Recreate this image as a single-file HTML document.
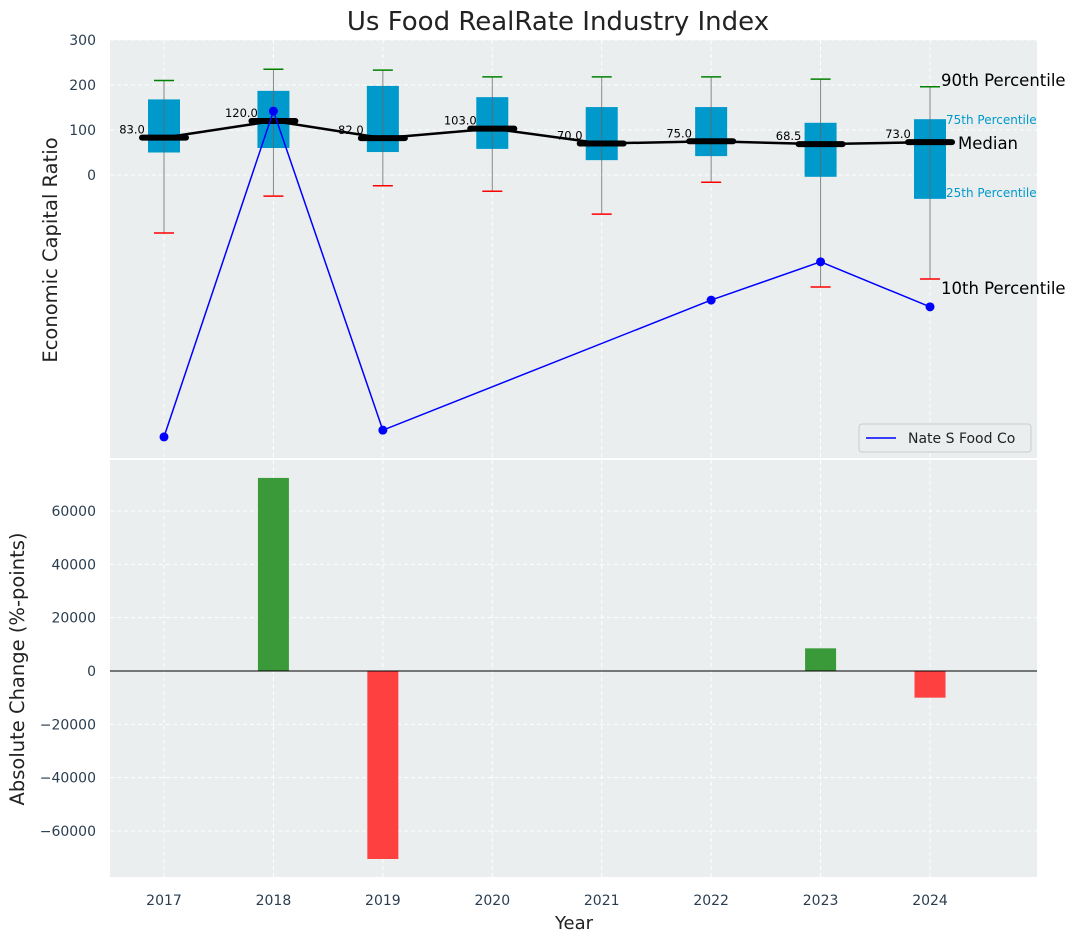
<!DOCTYPE html>
<html><head><meta charset="utf-8"><style>
body{margin:0;background:#fff;font-family:"Liberation Sans","DejaVu Sans",sans-serif}
svg text{font-family:"DejaVu Sans","Liberation Sans",sans-serif}
</style></head><body>
<svg id="c" width="1076" height="942" xmlns="http://www.w3.org/2000/svg"></svg>
<script>
const years=[2017,2018,2019,2020,2021,2022,2023,2024];
const p10=[-129,-47,-24,-36,-87,-16,-249,-231];
const p25=[50,60,51,58,33,42,-4,-53];
const med=[83,120,82,103,70,75,68.5,73];
const p75=[168,187,198,173,151,151,116,124];
const p90=[210,235,233,218,218,218,213,196];
const companyYears=[2017,2018,2019,2022,2023,2024];
const company=[-582,142,-567,-278,-193,-293];
const changeYears=[2018,2019,2023,2024];
const changes=[72400,-70500,8500,-10000];
const topTicks=[300,200,100,0];
const botTicks=[60000,40000,20000,0,-20000,-40000,-60000];

const NS="http://www.w3.org/2000/svg",svg=document.getElementById('c');
function el(t,a,txt){const e=document.createElementNS(NS,t);for(const k in a)e.setAttribute(k,a[k]);if(txt!==undefined)e.textContent=txt;svg.appendChild(e);return e;}
const X0=110,X1=1037;
const xs=y=>164+(y-2017)*109.43;
const yt=v=>175-v*0.45;
const yb=v=>671-v*0.0026667;

let p=el('rect',{x:X0,y:40,width:X1-X0,height:418,fill:'#eaeeee'});

p=el('rect',{x:X0,y:460,width:X1-X0,height:417,fill:'#eaeeee'});


years.forEach(y=>{
 el('line',{x1:xs(y),x2:xs(y),y1:40,y2:458,stroke:'#fff','stroke-dasharray':'4,3'});
 el('line',{x1:xs(y),x2:xs(y),y1:460,y2:877,stroke:'#fff','stroke-dasharray':'4,3'});
 let t=el('text',{x:xs(y),y:905,'text-anchor':'middle','font-size':14,fill:'#2b3e50'},y);
 
});
topTicks.forEach(v=>{
 el('line',{x1:X0,x2:X1,y1:yt(v),y2:yt(v),stroke:'#fff','stroke-dasharray':'4,3'});
 let t=el('text',{x:96,y:yt(v)+5,'text-anchor':'end','font-size':14,fill:'#2b3e50'},v);
 
});
botTicks.forEach(v=>{
 el('line',{x1:X0,x2:X1,y1:yb(v),y2:yb(v),stroke:'#fff','stroke-dasharray':'4,3'});
 let t=el('text',{x:96,y:yb(v)+5,'text-anchor':'end','font-size':14,fill:'#2b3e50'},v===0?'0':(v<0?'\u2212'+(-v):v));
 
});

years.forEach((y,i)=>{
 const x=xs(y);
 el('line',{x1:x,x2:x,y1:yt(p90[i]),y2:yt(p10[i]),stroke:'#888','stroke-width':1});
 let b=el('rect',{x:x-16,y:yt(p75[i]),width:32,height:yt(p25[i])-yt(p75[i]),fill:'#0099cc'});
 
 el('line',{x1:x,x2:x,y1:yt(p75[i]),y2:yt(p25[i]),stroke:'#666','stroke-width':0.8});
 el('line',{x1:x-10,x2:x+10,y1:yt(p90[i]),y2:yt(p90[i]),stroke:'green','stroke-width':1.5});
 el('line',{x1:x-10,x2:x+10,y1:yt(p10[i]),y2:yt(p10[i]),stroke:'red','stroke-width':1.5});
 let m=el('line',{x1:x-22,x2:x+22,y1:yt(med[i]),y2:yt(med[i]),stroke:'#000','stroke-width':6,'stroke-linecap':'round'});
 
 let t=el('text',{x:x-32,y:yt(med[i])-4,'text-anchor':'middle','font-size':11.5,fill:'#000'},med[i].toFixed(1));
 
});
let ml=el('polyline',{points:years.map((y,i)=>xs(y)+','+yt(med[i])).join(' '),fill:'none',stroke:'#000','stroke-width':2.5});


let cl=el('polyline',{points:companyYears.map((y,i)=>xs(y)+','+yt(company[i])).join(' '),fill:'none',stroke:'blue','stroke-width':1.5});

companyYears.forEach((y,i)=>{let c=el('circle',{cx:xs(y),cy:yt(company[i]),r:4.5,fill:'blue'});
 });

const L=years.length-1,ax=xs(years[L]);
[['90th Percentile',ax+11,yt(p90[L])-1,16.5,'#000'],['75th Percentile',ax+16,yt(p75[L])+5,12,'#0099cc'],
 ['Median',ax+28,yt(med[L])+7,16.5,'#000'],['25th Percentile',ax+16,yt(p25[L])-2,12,'#0099cc'],
 ['10th Percentile',ax+11,yt(p10[L])+15,16.5,'#000']].forEach(a=>{
 let t=el('text',{x:a[1],y:a[2],'font-size':a[3],fill:a[4]},a[0]);
 
});

let lg=el('rect',{x:859,y:424,width:172,height:28,fill:'#eaeeee',stroke:'#ccc',rx:3});

el('line',{x1:866,x2:896,y1:438,y2:438,stroke:'blue','stroke-width':1.5});
let lt=el('text',{x:908,y:443,'font-size':14,fill:'#222'},'Nate S Food Co');


changeYears.forEach((y,i)=>{const v=changes[i];
 let r=el('rect',{x:xs(y)-15.5,y:Math.min(yb(v),yb(0)),width:31,height:Math.abs(yb(v)-yb(0)),fill:v>=0?'#3a9a3a':'#ff4040'});
 
});
el('line',{x1:X0,x2:X1,y1:yb(0),y2:yb(0),stroke:'#000','stroke-width':1});

let t=el('text',{x:558,y:30,'text-anchor':'middle','font-size':26,fill:'#222'},'Us Food RealRate Industry Index');

t=el('text',{x:574,y:929,'text-anchor':'middle','font-size':18,fill:'#222'},'Year');

t=el('text',{x:57,y:250,'text-anchor':'middle','font-size':19.5,fill:'#222',transform:'rotate(-90 57 250)'},'Economic Capital Ratio');

t=el('text',{x:24,y:669,'text-anchor':'middle','font-size':19.5,fill:'#222',transform:'rotate(-90 24 669)'},'Absolute Change (%-points)');

</script>
</body></html>
